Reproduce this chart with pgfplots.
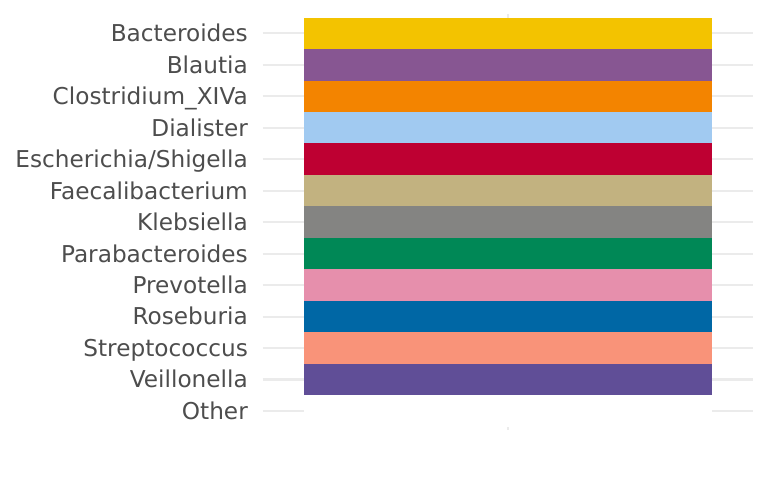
\documentclass[border=0pt]{standalone}
\usepackage{pgfplots}
\pgfplotsset{compat=1.18}
\usepackage{fontspec}
\setmainfont{DejaVu Sans}
\definecolor{txt}{HTML}{4D4D4D}
\definecolor{grd}{HTML}{EBEBEB}
\definecolor{c1}{HTML}{F3C300}
\definecolor{c2}{HTML}{875692}
\definecolor{c3}{HTML}{F38400}
\definecolor{c4}{HTML}{A1CAF1}
\definecolor{c5}{HTML}{BE0032}
\definecolor{c6}{HTML}{C2B280}
\definecolor{c7}{HTML}{848482}
\definecolor{c8}{HTML}{008856}
\definecolor{c9}{HTML}{E68FAC}
\definecolor{c10}{HTML}{0067A5}
\definecolor{c11}{HTML}{F99379}
\definecolor{c12}{HTML}{604E97}
\begin{document}
\begin{tikzpicture}
\useasboundingbox (0,0) rectangle (768bp,480bp);
\begin{axis}[
  at={(262.7bp,50.1bp)}, anchor=south west,
  scale only axis, width=490.6bp, height=415.5bp,
  xmin=-0.1, xmax=1.1, ymin=-0.6, ymax=12.6,
  y dir=reverse,
  ytick={0,...,12},
  yticklabels={Bacteroides,Blautia,Clostridium\_XIVa,Dialister,Escherichia/Shigella,Faecalibacterium,Klebsiella,Parabacteroides,Prevotella,Roseburia,Streptococcus,Veillonella,Other},
  xtick={0.5}, xticklabels={},
  ymajorgrids, xmajorgrids,
  grid style={color=grd, line width=2.1bp},
  axis line style={draw=none},
  major tick length=0pt,
  tick style={draw=none},
  yticklabel style={font=\fontsize{23.2bp}{26bp}\selectfont, text=txt, anchor=base east, inner sep=0pt, xshift=-14.7bp, yshift=-8.4bp},
  clip=false,
]
\addplot[xbar, bar width=1, fill=c1, draw=none] coordinates {(1,0)};
\addplot[xbar, bar width=1, fill=c2, draw=none] coordinates {(1,1)};
\addplot[xbar, bar width=1, fill=c3, draw=none] coordinates {(1,2)};
\addplot[xbar, bar width=1, fill=c4, draw=none] coordinates {(1,3)};
\addplot[xbar, bar width=1, fill=c5, draw=none] coordinates {(1,4)};
\addplot[xbar, bar width=1, fill=c6, draw=none] coordinates {(1,5)};
\addplot[xbar, bar width=1, fill=c7, draw=none] coordinates {(1,6)};
\addplot[xbar, bar width=1, fill=c8, draw=none] coordinates {(1,7)};
\addplot[xbar, bar width=1, fill=c9, draw=none] coordinates {(1,8)};
\addplot[xbar, bar width=1, fill=c10, draw=none] coordinates {(1,9)};
\addplot[xbar, bar width=1, fill=c11, draw=none] coordinates {(1,10)};
\addplot[xbar, bar width=1, fill=c12, draw=none] coordinates {(1,11)};
\addplot[xbar, bar width=1, fill=white, draw=none] coordinates {(1,12)};
\end{axis}
\end{tikzpicture}
\end{document}
